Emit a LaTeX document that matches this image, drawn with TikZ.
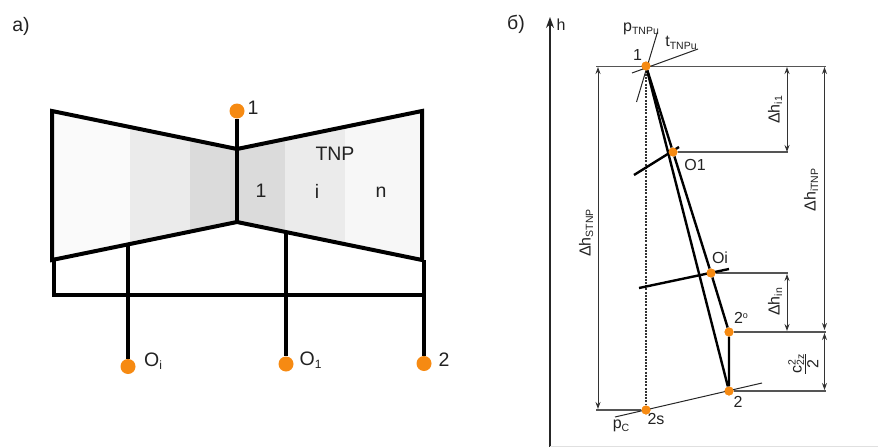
\documentclass[tikz,border=0pt]{standalone}
\usepackage{fontspec}
\setmainfont{Liberation Sans}
\usetikzlibrary{arrows.meta}
\definecolor{dotor}{HTML}{F68A12}
\definecolor{txt}{HTML}{222222}
\definecolor{gr}{HTML}{555555}
\newcommand\lowsub[1]{\raisebox{-2.5pt}{\fontsize{10.5}{10.5}\selectfont #1}}
\newcommand\bigsub[1]{\raisebox{-3pt}{\fontsize{12}{12}\selectfont #1}}
\tikzset{
  x=1pt,y=-1pt,
  dot/.style={circle,fill=dotor,inner sep=0pt,minimum size=15pt},
  sdot/.style={circle,fill=dotor,inner sep=0pt,minimum size=9pt},
  pipe/.style={line width=4pt,black},
  blade/.style={line width=2.4pt,black},
  proc/.style={line width=2.4pt,black},
  thin line/.style={line width=1pt,black!85},
  level/.style={line width=1.1pt,gr},
  dim/.style={line width=1pt,black!80,{Stealth[length=7pt,width=5pt]}-{Stealth[length=7pt,width=5pt]}},
  lab/.style={font=\fontsize{19.5}{21}\selectfont,text=txt,inner sep=0pt},
  slab/.style={font=\fontsize{16}{18}\selectfont,text=txt,inner sep=0pt},
  rlab/.style={slab,rotate=90}
}
\begin{document}
\begin{tikzpicture}
\useasboundingbox (0,0) rectangle (878,447);
% shading
\fill[black!2] (52,111) -- (130,127) -- (130,244) -- (52,260) -- cycle;
\fill[black!8] (130,127) -- (190,139.5) -- (190,232) -- (130,244) -- cycle;
\fill[black!14] (190,139.5) -- (237,149) -- (237,222) -- (190,232) -- cycle;
\fill[black!14] (237,149) -- (285,139) -- (285,232) -- (237,222) -- cycle;
\fill[black!8] (285,139) -- (345,127) -- (345,244) -- (285,232) -- cycle;
\fill[black!3] (345,127) -- (422,111) -- (422,260) -- (345,244) -- cycle;
% named points, left
\coordinate (lt) at (52,111); \coordinate (ct) at (237,149); \coordinate (rt) at (422,111);
\coordinate (rb) at (422,260); \coordinate (cb) at (237,222); \coordinate (lb) at (52,260);
\coordinate (pl) at (54,295); \coordinate (pr) at (424,295);
\coordinate (lb2) at (54,260); \coordinate (rb2) at (424,260);
\coordinate (oit) at (128,244); \coordinate (o1t) at (286,233);
\draw[pipe,line join=miter] (ct) -- (lt) -- (lb) -- (cb) -- (rb) -- (rt) -- cycle;
\draw[pipe] (ct) -- (cb);
\node[dot] (in1) at (237,111) {};
\node[dot] (nOi) at (128,366.5) {};
\node[dot] (nO1) at (286,364) {};
\node[dot] (n2) at (424,363.5) {};
\draw[pipe] (in1) -- (ct);
\draw[pipe] (lb2) -- (pl) -- (pr);
\draw[pipe] (rb2) -- (n2);
\draw[pipe] (oit) -- (nOi);
\draw[pipe] (o1t) -- (nO1);
% labels, left
\node[lab] (ta) at (21,26) {а)};
\node[lab] (t1) at (253,108) {1};
\node[lab] (tTNP) at (335,154) {TNP};
\node[lab] (s1) at (261,191) {1};
\node[lab] (si) at (317,191) {i};
\node[lab] (sn) at (381,192) {n};
\node[lab,anchor=west] (tOi) at (144,361.5) {O\bigsub{i}};
\node[lab,anchor=west] (tO1) at (299.5,360.5) {O\bigsub{1}};
\node[lab] (t2) at (444,359.5) {2};
% right
\node[lab] (tb) at (516,24) {б)};
\coordinate (ax0) at (550,447); \coordinate (ax1) at (550,17);
\draw[line width=1.1pt,black!85,-{Stealth[length=11pt,width=8pt]}] (ax0) -- (ax1);
\coordinate (bl) at (550,446); \coordinate (br) at (878,446);
\draw[line width=.7pt,black!12] (bl) -- (br);
\node[slab] (th) at (561,25) {h};
% process points
\node[sdot] (P1) at (646,66) {};
\node[sdot] (PO1) at (673,152) {};
\node[sdot] (POi) at (711,273) {};
\node[sdot] (P2o) at (729,332) {};
\node[sdot] (P2) at (729,391) {};
\node[sdot] (P2s) at (646,410) {};
% guide ends
\coordinate (L1a) at (596,66.5); \coordinate (L1b) at (826,66.5);
\coordinate (L2) at (788,152.5); \coordinate (L3) at (788,273.5);
\coordinate (L4) at (826,331.5); \coordinate (L5) at (826,391.5);
\coordinate (L6) at (596,410.5);
\draw[level] (L1a) -- (L1b);
\draw[level] (PO1) -- (PO1 -| L2);
\draw[level] (POi) -- (POi -| L3);
\draw[level] (P2o) -- (P2o -| L4);
\draw[level] (P2) -- (P2 -| L5);
\draw[level] (P2s) -- (P2s -| L6);
\draw[line width=1.1pt,black!80,dash pattern=on 2pt off 1.2pt] (P1) -- (P2s);
% isobars
\coordinate (pa) at (636.5,102); \coordinate (pb) at (657.5,32);
\coordinate (ta1) at (632,73); \coordinate (tb1) at (698,49);
\coordinate (ca) at (615,417); \coordinate (cb2) at (762,383);
\coordinate (o1a) at (634,175); \coordinate (o1b) at (679,147);
\coordinate (oia) at (639,288); \coordinate (oib) at (729,269);
\draw[thin line] (pa) -- (pb);
\draw[thin line] (ta1) -- (tb1);
\draw[thin line] (ca) -- (cb2);
\draw[blade] (o1a) -- (o1b);
\draw[blade] (oia) -- (oib);
% process
\draw[proc] (P1) -- (P2);
\draw[proc,line join=round] (P1) -- (PO1) -- (POi) -- (P2o) -- (P2);
\node[sdot] at (P1) {}; \node[sdot] at (PO1) {}; \node[sdot] at (POi) {};
\node[sdot] at (P2o) {}; \node[sdot] at (P2) {}; \node[sdot] at (P2s) {};
% dimensions
\coordinate (dA) at (598,67); \coordinate (dB) at (598,409);
\coordinate (dC) at (787,67); \coordinate (dD) at (787,152);
\coordinate (dE) at (787,274); \coordinate (dF) at (787,331);
\coordinate (dG) at (824.5,67); \coordinate (dH) at (824.5,330);
\coordinate (dI) at (824.5,333); \coordinate (dJ) at (824.5,390);
\draw[dim] (dA) -- (dB);
\draw[dim] (dC) -- (dD);
\draw[dim] (dE) -- (dF);
\draw[dim] (dG) -- (dH);
\draw[dim] (dI) -- (dJ);
% labels, right
\node[slab] (tp) at (641,29) {p\lowsub{TNPu}};
\node[slab] (tt) at (681,43) {t\lowsub{TNPu}};
\node[slab] (t11) at (637.5,55) {1};
\node[slab] (tO11) at (695,165) {O1};
\node[slab] (tOi2) at (720,258) {Oi};
\node[slab] (t2o) at (741,318) {2\raisebox{5pt}{\fontsize{9}{9}\selectfont o}};
\node[slab] (t22) at (738,402) {2};
\node[slab] (t2s) at (656,419) {2s};
\node[slab] (tpc) at (621,426) {p\lowsub{C}};
\node[rlab] (dh1) at (775,110) {Δh\lowsub{i1}};
\node[rlab] (dh2) at (775,302) {Δh\lowsub{in}};
\node[rlab] (dh3) at (811,190) {Δh\lowsub{iTNP}};
\node[rlab] (dh4) at (586,233) {Δh\lowsub{STNP}};
\node[rlab] (cf) at (806,364) {\begin{tabular}{@{}c@{}}c\rlap{\raisebox{6pt}{\fontsize{10.5}{10.5}\selectfont 2}}\lowsub{2z}\\[-2pt]\hline\rule{0pt}{13pt}2\end{tabular}};
\end{tikzpicture}
\end{document}
